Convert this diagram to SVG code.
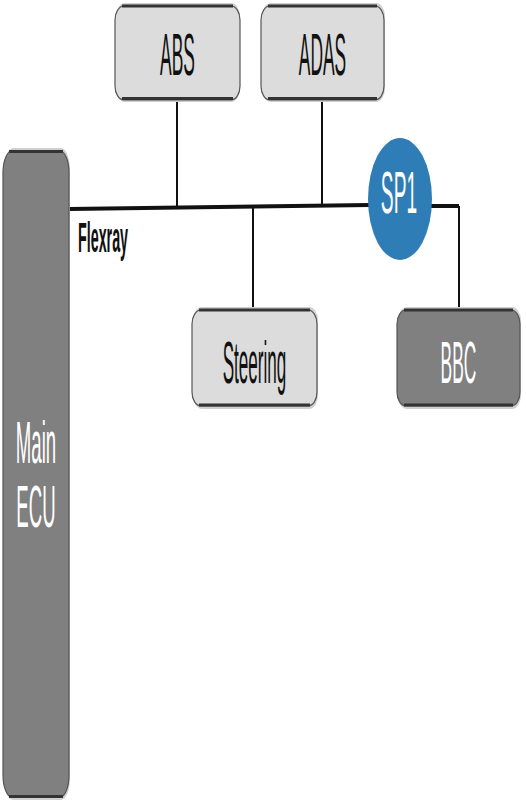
<svg xmlns="http://www.w3.org/2000/svg" width="526" height="805" viewBox="0 0 526 805">
<style>
.light{fill:#dcdcdc;stroke:#555;stroke-width:1.2}
.dark{fill:#808080;stroke:#555;stroke-width:1.2}
.edge{stroke:#333;stroke-width:3;fill:none}
.shadow{fill:#cfcfcf}
.lbl{font-family:"Liberation Sans",Arial,sans-serif;font-size:30px;text-anchor:middle}
.wire{stroke:#111;fill:none;stroke-width:2}
.bus{stroke:#111;fill:none;stroke-width:4}
</style>
<rect width="526" height="805" fill="#fff"/>
<g id="connectors">
<line class="bus" x1="69" y1="209" x2="370" y2="205"/>
<polyline class="bus" points="430,206 459,206"/>
<line class="wire" x1="459" y1="206" x2="459" y2="309"/>
<line class="wire" x1="177" y1="100" x2="177" y2="207"/>
<line class="wire" x1="322" y1="100" x2="322" y2="206"/>
<line class="wire" x1="253" y1="208" x2="253" y2="309"/>
</g>
<g id="main-ecu">
<rect class="shadow" x="4" y="148" width="66" height="652" rx="9" ry="22"/>
<rect class="dark" x="3" y="151" width="66" height="646" rx="9" ry="22"/>
<path class="edge" d="M9,151.5 H63"/>
<path class="edge" d="M9,796.5 H63"/>
<text class="lbl" fill="#fff" font-size="28" transform="translate(36,463) scale(0.62,2)">Main</text>
<text class="lbl" fill="#fff" font-size="28" transform="translate(36,527) scale(0.62,2)">ECU</text>
</g>
<g id="abs">
<rect class="shadow" x="116" y="3" width="124" height="99" rx="9" ry="14"/>
<rect class="light" x="115" y="6" width="125" height="94" rx="9" ry="14"/>
<path class="edge" d="M122,6 H233 M122,98.5 H233"/>
<text class="lbl" fill="#111" transform="translate(177.5,75) scale(0.58,2)">ABS</text>
</g>
<g id="adas">
<rect class="shadow" x="262" y="3" width="123" height="99" rx="9" ry="14"/>
<rect class="light" x="261" y="6" width="123" height="94" rx="9" ry="14"/>
<path class="edge" d="M268,6 H377 M268,98.5 H377"/>
<text class="lbl" fill="#111" transform="translate(322.5,75) scale(0.58,2)">ADAS</text>
</g>
<g id="steering">
<rect class="shadow" x="193" y="307" width="125" height="102" rx="9" ry="14"/>
<rect class="light" x="192" y="310" width="125" height="96" rx="9" ry="14"/>
<path class="edge" d="M199,310 H310 M199,405 H310"/>
<text class="lbl" fill="#111" transform="translate(254.5,383) scale(0.57,2)">Steering</text>
</g>
<g id="bbc">
<rect class="shadow" x="398" y="307" width="123" height="102" rx="9" ry="14"/>
<rect class="dark" x="397" y="310" width="123" height="96" rx="9" ry="14"/>
<path class="edge" d="M404,310 H513 M404,405 H513"/>
<text class="lbl" fill="#fff" transform="translate(458.5,383) scale(0.58,2)">BBC</text>
</g>
<g id="sp1">
<ellipse cx="400" cy="199" rx="32" ry="61" fill="#2f7db6"/>
<text class="lbl" fill="#fff" font-size="21" transform="translate(399,213) scale(0.64,2)">SP1</text>
</g>
<g id="flexray-label">
<text font-family="'Liberation Sans',Arial,sans-serif" font-weight="bold" font-size="22" fill="#111" transform="translate(78,252) scale(0.65,1.9)">Flexray</text>
</g>
</svg>
